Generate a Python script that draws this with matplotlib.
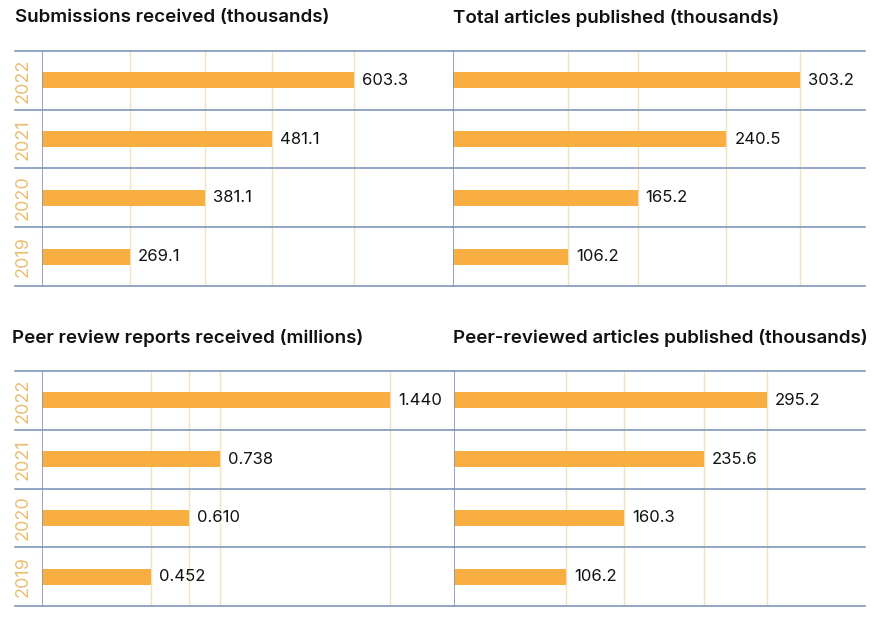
import matplotlib
matplotlib.use("Agg")
import matplotlib.pyplot as plt

plt.rcParams['font.family'] = ['Inter', 'DejaVu Sans']

years = ["2019", "2020", "2021", "2022"]

submissions = [269.1, 381.1, 481.1, 603.3]
submissions_labels = ["269.1", "381.1", "481.1", "603.3"]
total_articles = [106.2, 165.2, 240.5, 303.2]
total_articles_labels = ["106.2", "165.2", "240.5", "303.2"]
peer_reports = [0.452, 0.610, 0.738, 1.440]
peer_reports_labels = ["0.452", "0.610", "0.738", "1.440"]
peer_articles = [106.2, 160.3, 235.6, 295.2]
peer_articles_labels = ["106.2", "160.3", "235.6", "295.2"]

titles = [
    "Submissions received (thousands)",
    "Total articles published (thousands)",
    "Peer review reports received (millions)",
    "Peer-reviewed articles published (thousands)",
]

BAR = "#F9AE41"
LINE = "#7F97BA"
GRID = "#F1E2BF"
YEARC = "#E9BE72"

W, H = 877, 617
fig = plt.figure(figsize=(W / 100, H / 100), dpi=100)

panels = [
    (42, 453, 51, 286, (138, 751), 15, 15, 18, True, submissions, submissions_labels),
    (453, 865, 51, 286, (8.7, 358), 453, 453, 18, False, total_articles, total_articles_labels),
    (42, 453, 371, 606, (0, 1.70), 15, 12, 338, True, peer_reports, peer_reports_labels),
    (454, 865, 371, 606, (0, 388), 453, 453, 338, False, peer_articles, peer_articles_labels),
]

for i, (l, r, t, b, xl, ll, tx, ty, showyears, vals, labs) in enumerate(panels):
    ax = fig.add_axes([l / W, 1 - b / H, (r - l) / W, (b - t) / H])
    ypos = list(range(len(years)))
    ax.barh(ypos, vals, height=0.27, color=BAR, zorder=3)
    ax.set_xlim(*xl)
    ax.set_ylim(-0.5, len(years) - 0.5)
    for v in vals:
        ax.axvline(v, color=GRID, lw=1.0, zorder=1)
    for s in ax.spines.values():
        s.set_visible(False)
    ax.axvline(xl[0], color=LINE, lw=1.2, zorder=4)
    xmin_frac = (ll - l) / (r - l)
    for k in range(len(years) + 1):
        ax.plot([xmin_frac, 1], [k - 0.5, k - 0.5], color=LINE, lw=1.2,
                transform=ax.get_yaxis_transform(), clip_on=False, zorder=4)
    ax.set_xticks([])
    ax.set_yticks([])
    for y, v, s in zip(ypos, vals, labs):
        ax.annotate(s, (v, y), xytext=(8, 0), textcoords="offset pixels",
                    ha="left", va="center", fontsize=12, color="#111111")
    if showyears:
        for y, yr in zip(ypos, years):
            ax.annotate(yr, (0, y), xycoords=("axes fraction", "data"),
                        xytext=(-19, 0), textcoords="offset pixels",
                        rotation=90, ha="center", va="center",
                        fontsize=13, color=YEARC)
    fig.text(tx / W, 1 - ty / H, titles[i], ha="left", va="center",
             fontsize=13.5, fontweight="semibold", color="#111111")

fig.savefig("out.png", dpi=100, facecolor="white")
